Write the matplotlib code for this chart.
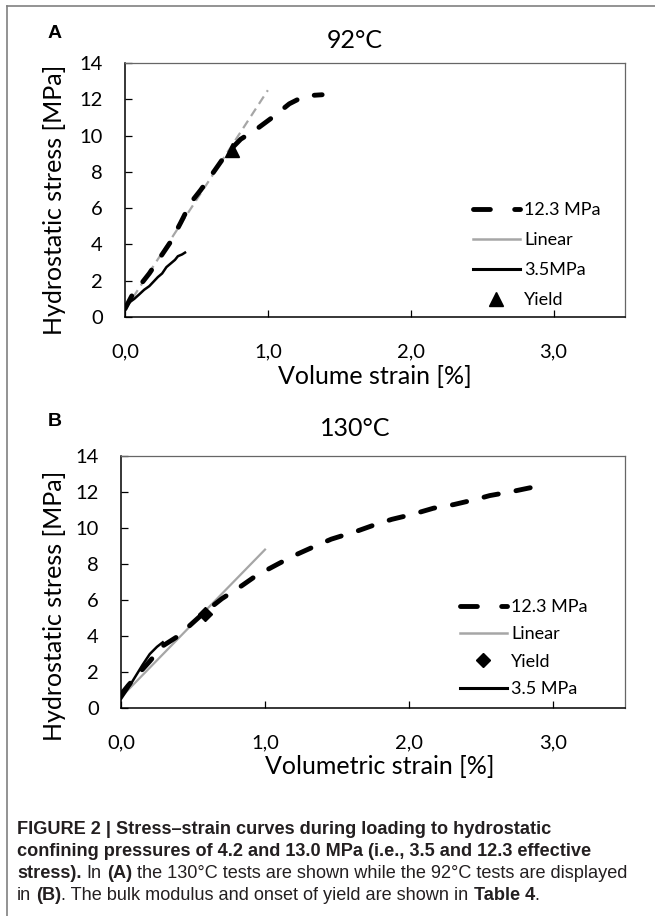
import numpy as np
from matplotlib import pyplot as plt
from matplotlib.lines import Line2D

plt.rcParams["font.family"] = ["Lato", "DejaVu Sans"]

# panel A (92 C)
a_hi_x = [0.0, 0.05, 0.11, 0.17, 0.23, 0.32, 0.39, 0.46, 0.53, 0.63, 0.71, 0.81, 0.92,
          1.04, 1.15, 1.25, 1.32, 1.38]
a_hi_y = [0.45, 1.2, 1.8, 2.4, 3.1, 4.15, 5.2, 6.3, 7.0, 8.1, 9.0, 9.8, 10.35,
          11.05, 11.75, 12.15, 12.22, 12.25]
a_lin_x = [0.0, 1.0]
a_lin_y = [0.4, 12.5]
a_lo_x = [0.0, 0.03, 0.065, 0.1, 0.134, 0.17, 0.2, 0.23, 0.26, 0.29, 0.32, 0.35, 0.37, 0.4, 0.42]
a_lo_y = [0.45, 0.8, 1.0, 1.25, 1.5, 1.7, 1.95, 2.2, 2.4, 2.75, 2.95, 3.15, 3.35, 3.45, 3.55]
a_yield = (0.75, 9.2)

# panel B (130 C)
b_hi_x = [0.0, 0.05, 0.11, 0.2, 0.29, 0.39, 0.48, 0.57, 0.7, 0.84, 0.94, 1.09, 1.2, 1.35,
          1.46, 1.64, 1.77, 1.88, 2.02, 2.17, 2.31, 2.46, 2.56, 2.7, 2.88]
b_hi_y = [0.75, 1.25, 1.8, 2.6, 3.45, 3.96, 4.6, 5.25, 6.07, 6.8, 7.36, 8.0, 8.46, 9.0,
          9.38, 9.83, 10.2, 10.48, 10.75, 11.1, 11.3, 11.58, 11.8, 12.0, 12.3]
b_lin_x = [0.0, 1.0]
b_lin_y = [0.6, 8.8]
b_lo_x = [0.0, 0.05, 0.1, 0.15, 0.2, 0.25, 0.29]
b_lo_y = [0.5, 1.1, 1.75, 2.4, 3.0, 3.4, 3.65]
b_yield = (0.58, 5.25)

xticks = [0, 1, 2, 3]
xticklabels = ["0,0", "1,0", "2,0", "3,0"]
yticks = list(range(0, 15, 2))

W, H = 655, 916
fig = plt.figure(figsize=(W / 100, H / 100), dpi=100)


def px(l, t, r, b):
    return [l / W, 1 - b / H, (r - l) / W, (b - t) / H]


HI = dict(color="black", lw=3.5, solid_capstyle="round", dash_capstyle="round")
GRAY = "#a6a6a6"


def style(ax, xlabel):
    ax.set_xlim(0, 3.5)
    ax.set_ylim(0, 14)
    ax.set_xticks(xticks)
    ax.set_xticklabels(xticklabels)
    ax.set_yticks(yticks)
    ax.tick_params(direction="in", length=5, width=0.9, labelsize=14.5)
    ax.tick_params(axis="x", pad=19)
    ax.tick_params(axis="y", pad=16)
    for s in ["top", "right"]:
        ax.spines[s].set_color("#666666")
        ax.spines[s].set_linewidth(0.9)
    for s in ["left", "bottom"]:
        ax.spines[s].set_linewidth(1.1)
    ax.set_xlabel(xlabel, fontsize=18)
    ax.set_ylabel("Hydrostatic stress [MPa]", fontsize=18)


# ---- A ----
ax1 = fig.add_axes(px(125, 63, 625, 317))
ax1.plot(a_lin_x, a_lin_y, color=GRAY, lw=1.6, dashes=(4, 2.5))
ax1.plot(a_hi_x, a_hi_y, dashes=(3.0, 3.7), **HI)
ax1.plot(a_lo_x, a_lo_y, color="black", lw=1.8)
ax1.plot(*a_yield, marker="^", color="black", ms=10, ls="none")
style(ax1, "Volume strain [%]")
ax1.xaxis.set_label_coords(0.5, -(377 - 317) / 254)
ax1.xaxis.label.set_va("center")
ax1.yaxis.set_label_coords(-(125 - 55) / 500, (317 - 200) / 254)
ax1.yaxis.label.set_va("center")

h_hi = Line2D([], [], dashes=(3.47, 5.0), **HI)
h_lin = Line2D([], [], color=GRAY, lw=1.8)
h_lo = Line2D([], [], color="black", lw=2.2)
h_yA = Line2D([], [], marker="^", color="black", ms=10, ls="none")
h_yB = Line2D([], [], marker="D", color="black", ms=7.5, ls="none")

legA = ax1.legend([h_hi, h_lin, h_lo, h_yA], ["12.3 MPa", "Linear", "3.5MPa", "Yield"],
                  loc="upper left", bbox_to_anchor=(473 / W, 1 - 202 / H),
                  bbox_transform=fig.transFigure, frameon=False, fontsize=13,
                  borderpad=0, borderaxespad=0, handlelength=2.6, handletextpad=0.25,
                  labelspacing=0.78)

fig.text(55 / W, 1 - 33 / H, "A", fontsize=14, fontweight="bold",
         family="Liberation Sans", ha="center", va="center")
fig.text(355 / W, 1 - 40 / H, "92°C", fontsize=18, ha="center", va="center")

# ---- B ----
ax2 = fig.add_axes(px(121, 456, 625, 708))
ax2.plot(b_lin_x, b_lin_y, color=GRAY, lw=1.6)
ax2.plot(b_hi_x, b_hi_y, dashes=(3.0, 3.7), **HI)
ax2.plot(b_lo_x, b_lo_y, color="black", lw=1.8)
ax2.plot(*b_yield, marker="D", color="black", ms=7.5, ls="none")
style(ax2, "Volumetric strain [%]")
ax2.xaxis.set_label_coords((380 - 121) / 504, -(767 - 708) / 252)
ax2.xaxis.label.set_va("center")
ax2.yaxis.set_label_coords(-(121 - 55) / 504, (708 - 606) / 252)
ax2.yaxis.label.set_va("center")

legB = ax2.legend([h_hi, h_lin, h_yB, h_lo], ["12.3 MPa", "Linear", "Yield", "3.5 MPa"],
                  loc="upper left", bbox_to_anchor=(460 / W, 1 - 599 / H),
                  bbox_transform=fig.transFigure, frameon=False, fontsize=13,
                  borderpad=0, borderaxespad=0, handlelength=2.6, handletextpad=0.25,
                  labelspacing=0.63)

fig.text(55 / W, 1 - 421 / H, "B", fontsize=14, fontweight="bold",
         family="Liberation Sans", ha="center", va="center")
fig.text(355 / W, 1 - 428 / H, "130°C", fontsize=18, ha="center", va="center")

# ---- frame ----
fig.add_artist(Line2D([7 / W, 7 / W], [0, 1 - 6 / H], color="#808080", lw=1.2))
fig.add_artist(Line2D([7 / W, 1], [1 - 6 / H, 1 - 6 / H], color="#808080", lw=1.2))

# ---- caption ----
cap_lines = [
    [("FIGURE 2 | Stress–strain curves during loading to hydrostatic", True)],
    [("confining pressures of 4.2 and 13.0 MPa (i.e., 3.5 and 12.3 effective", True)],
    [("stress).", True), ("In", False), ("(A)", True),
     ("the 130°C tests are shown while the 92°C tests are displayed", False)],
    [("in", False), ("(B)", True), (". The bulk modulus and onset of yield are shown in", False),
     ("Table 4", True), (".", False)],
]
cap_y = [829, 852, 874, 896]
space_before = [[False], [False], [False, True, True, True], [False, True, False, True, False]]

r = fig.canvas.get_renderer()


def width(s, bold, size):
    t = fig.text(0, 0, s, fontsize=size, fontweight="bold" if bold else "normal",
                 family="Liberation Sans")
    w = t.get_window_extent(r).width
    t.remove()
    return w


def line_width(parts, sps, size):
    sp = width("a a", False, size) - width("aa", False, size)
    return sum(width(s, b, size) for s, b in parts) + sp * sum(sps)


cap_size = min(10 * 612 / line_width(cap_lines[1], space_before[1], 10),
               10 * 614 / line_width(cap_lines[2], space_before[2], 10))

sp = width("a a", False, cap_size) - width("aa", False, cap_size)
for parts, y, sps in zip(cap_lines, cap_y, space_before):
    x = 17
    for (s, bold), spb in zip(parts, sps):
        if spb:
            x += sp
        fig.text(x / W, 1 - y / H, s, fontsize=cap_size, fontweight="bold" if bold else "normal",
                 family="Liberation Sans", va="center", color="#231f20")
        x += width(s, bold, cap_size)

fig.savefig("out.png", dpi=100)
